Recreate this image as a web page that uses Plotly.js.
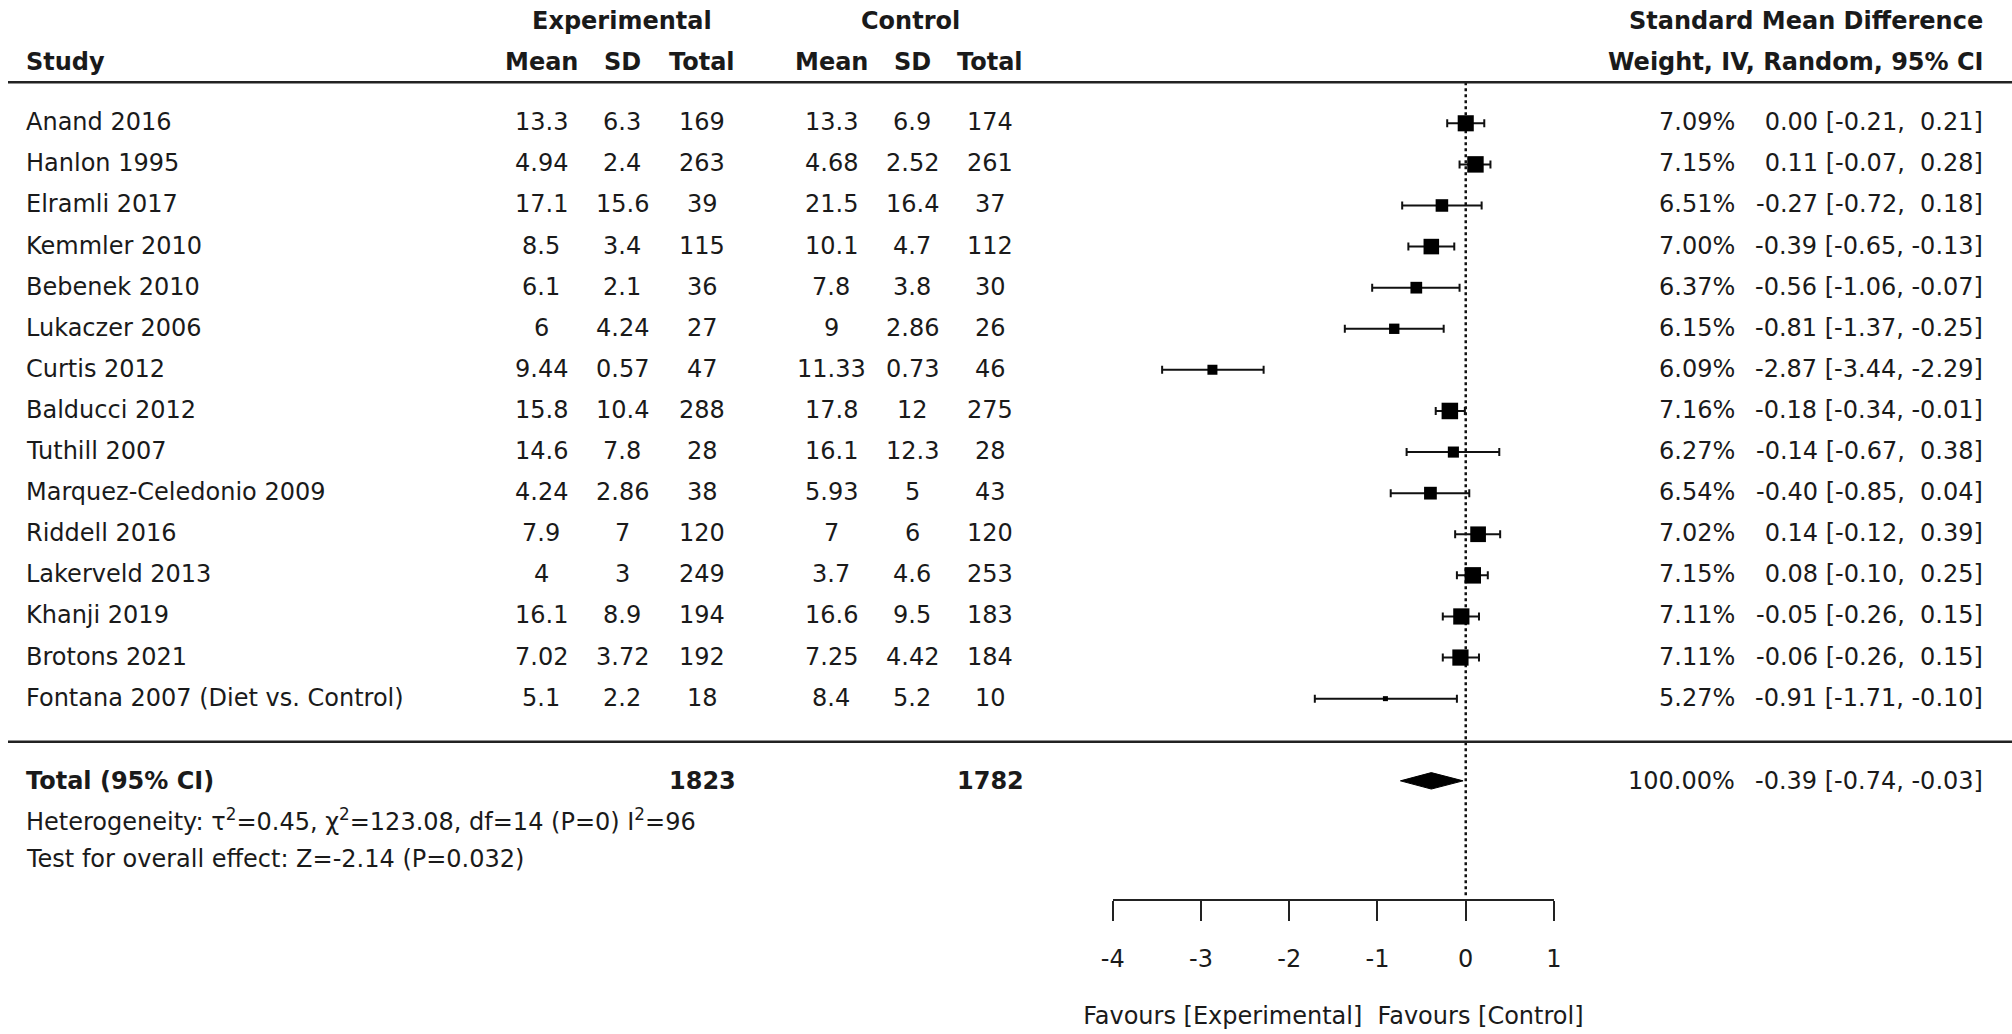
<!DOCTYPE html>
<html>
<head>
<meta charset="utf-8">
<script src="https://cdn.plot.ly/plotly-3.0.1.min.js"></script>
<style>html,body{margin:0;padding:0;background:#fff;}#chart{width:2012px;height:1034px;}</style>
</head>
<body>
<div id="chart"></div>
<script>
// ---------- DATA ----------
const studies = ["Anand 2016","Hanlon 1995","Elramli 2017","Kemmler 2010","Bebenek 2010","Lukaczer 2006","Curtis 2012","Balducci 2012","Tuthill 2007","Marquez-Celedonio 2009","Riddell 2016","Lakerveld 2013","Khanji 2019","Brotons 2021","Fontana 2007 (Diet vs. Control)"];
const expMean = [13.3,4.94,17.1,8.5,6.1,6,9.44,15.8,14.6,4.24,7.9,4,16.1,7.02,5.1];
const expSD = [6.3,2.4,15.6,3.4,2.1,4.24,0.57,10.4,7.8,2.86,7,3,8.9,3.72,2.2];
const expN = [169,263,39,115,36,27,47,288,28,38,120,249,194,192,18];
const ctrlMean = [13.3,4.68,21.5,10.1,7.8,9,11.33,17.8,16.1,5.93,7,3.7,16.6,7.25,8.4];
const ctrlSD = [6.9,2.52,16.4,4.7,3.8,2.86,0.73,12,12.3,5,6,4.6,9.5,4.42,5.2];
const ctrlN = [174,261,37,112,30,26,46,275,28,43,120,253,183,184,10];
const weights = [7.09,7.15,6.51,7.00,6.37,6.15,6.09,7.16,6.27,6.54,7.02,7.15,7.11,7.11,5.27];
const smd = [0.00,0.11,-0.27,-0.39,-0.56,-0.81,-2.87,-0.18,-0.14,-0.40,0.14,0.08,-0.05,-0.06,-0.91];
const ciLow = [-0.21,-0.07,-0.72,-0.65,-1.06,-1.37,-3.44,-0.34,-0.67,-0.85,-0.12,-0.10,-0.26,-0.26,-1.71];
const ciHigh = [0.21,0.28,0.18,-0.13,-0.07,-0.25,-2.29,-0.01,0.38,0.04,0.39,0.25,0.15,0.15,-0.10];
const totalExpN = 1823;
const totalCtrlN = 1782;
const totalWeight = 100.00;
const pooledSMD = -0.39;
const pooledLow = -0.74;
const pooledHigh = -0.03;
const axisTicks = [-4,-3,-2,-1,0,1];
const heterogeneityText = "Heterogeneity: τ<sup>2</sup>=0.45, χ<sup>2</sup>=123.08, df=14 (P=0) I<sup>2</sup>=96";
const overallText = "Test for overall effect: Z=-2.14 (P=0.032)";
const favoursText = "Favours [Experimental]\u00a0\u00a0Favours [Control]";

// ---------- LAYOUT HELPERS ----------
const W = 2012, H = 1034;
const FONT = "DejaVu Sans";
const FS = 24;
const TXT = "#1a1a1a";
const rows = studies.map((_, i) => i);
const totalRow = studies.length + 1;      // 16
const px = v => v / W;
const colX = {study: 24, eMean: 541, eSD: 622, eN: 702, cMean: 831, cSD: 912, cN: 990, weight: 1737, ci: 1985};

function fmtCI(est, lo, hi) {
  const sp = v => (v >= 0 ? "\u00a0" : "");
  return sp(est) + est.toFixed(2) + " [" + sp(lo) + lo.toFixed(2) + ", " + sp(hi) + hi.toFixed(2) + "]";
}
const sizeFromWeight = w => 5 + (w - 5.27) * 6.1;

const ann = [];
function add(text, x, y, anchor, bold, shift) {
  ann.push({text: bold ? "<b>" + text + "</b>" : text, x: px(x), xref: "paper", y: y, yref: "y",
    xanchor: anchor, yanchor: "middle", yshift: shift === undefined ? 1 : shift, showarrow: false,
    font: {family: FONT, size: FS, color: TXT}});
}
// headers
const h1 = -2.5, h2 = -1.5;
add("Experimental", 622, h1, "center", true, 0);
add("Control", 910, h1, "center", true, 0);
add("Standard Mean Difference", colX.ci, h1, "right", true, 0);
add("Study", colX.study, h2, "left", true, 0);
add("Mean", colX.eMean, h2, "center", true, 0);
add("SD", colX.eSD, h2, "center", true, 0);
add("Total", colX.eN, h2, "center", true, 0);
add("Mean", colX.cMean, h2, "center", true, 0);
add("SD", colX.cSD, h2, "center", true, 0);
add("Total", colX.cN, h2, "center", true, 0);
add("Weight, IV, Random, 95% CI", colX.ci, h2, "right", true, 0);
// rows
rows.forEach(i => {
  add(studies[i], colX.study, i, "left");
  add(String(expMean[i]), colX.eMean, i, "center");
  add(String(expSD[i]), colX.eSD, i, "center");
  add(String(expN[i]), colX.eN, i, "center");
  add(String(ctrlMean[i]), colX.cMean, i, "center");
  add(String(ctrlSD[i]), colX.cSD, i, "center");
  add(String(ctrlN[i]), colX.cN, i, "center");
  add(weights[i].toFixed(2) + "%", colX.weight, i, "right");
  add(fmtCI(smd[i], ciLow[i], ciHigh[i]), colX.ci, i, "right");
});
// totals
add("Total (95% CI)", colX.study, totalRow, "left", true, 0);
add(String(totalExpN), colX.eN, totalRow, "center", true, 0);
add(String(totalCtrlN), colX.cN, totalRow, "center", true, 0);
add(totalWeight.toFixed(2) + "%", colX.weight, totalRow, "right", false, 0);
add(fmtCI(pooledSMD, pooledLow, pooledHigh), colX.ci, totalRow, "right", false, 0);
add(heterogeneityText, colX.study, 16.95, "left", false, 0);
add(overallText, colX.study, 17.9, "left", false, 0);

// ---------- TRACES ----------
const studyTrace = {
  type: "scatter", mode: "markers", x: smd, y: rows,
  marker: {symbol: "square", color: "#000", opacity: 1, size: weights.map(sizeFromWeight), line: {width: 0}},
  error_x: {type: "data", symmetric: false, array: smd.map((v, i) => ciHigh[i] - v),
            arrayminus: smd.map((v, i) => v - ciLow[i]), color: "#111", thickness: 2, width: 4},
  hoverinfo: "skip", showlegend: false
};
const dh = 0.2;
const diamond = {
  type: "scatter", mode: "lines", fill: "toself", fillcolor: "#000",
  x: [pooledLow, pooledSMD, pooledHigh, pooledSMD, pooledLow],
  y: [totalRow, totalRow - dh, totalRow, totalRow + dh, totalRow],
  line: {color: "#000", width: 1}, hoverinfo: "skip", showlegend: false
};

const layout = {
  width: W, height: H, margin: {l: 0, r: 0, t: 0, b: 0},
  paper_bgcolor: "#fff", plot_bgcolor: "rgba(0,0,0,0)",
  showlegend: false,
  font: {family: FONT, size: FS, color: TXT},
  xaxis: {
    domain: [1112.7 / W, 1554 / W], range: [-4, 1], anchor: "free", position: 1 - 899.5 / H,
    showline: true, linewidth: 2, linecolor: "#222", ticks: "outside", ticklen: 20, tickwidth: 2, tickcolor: "#222",
    tickvals: axisTicks, ticktext: axisTicks.map(String), showgrid: false, zeroline: false,
    tickfont: {family: FONT, size: FS, color: TXT}, ticklabelstandoff: 18,
    title: {text: favoursText, font: {family: FONT, size: FS, color: TXT}, standoff: 34}
  },
  yaxis: {domain: [0, 1], range: [22.16, -3.0], visible: false, showgrid: false, zeroline: false},
  shapes: [
    {type: "line", xref: "paper", yref: "y", x0: 8 / W, x1: 1, y0: -1.0, y1: -1.0, line: {color: "#222", width: 2.5}},
    {type: "line", xref: "paper", yref: "y", x0: 8 / W, x1: 1, y0: 15.05, y1: 15.05, line: {color: "#222", width: 2.5}},
    {type: "line", xref: "x", yref: "y", x0: 0, x1: 0, y0: -1.0, y1: 18.8, line: {color: "#111", width: 2.5, dash: "dot"}, layer: "below"}
  ],
  annotations: ann
};

Plotly.newPlot("chart", [studyTrace, diamond], layout, {staticPlot: true, displayModeBar: false});
</script>
</body>
</html>
